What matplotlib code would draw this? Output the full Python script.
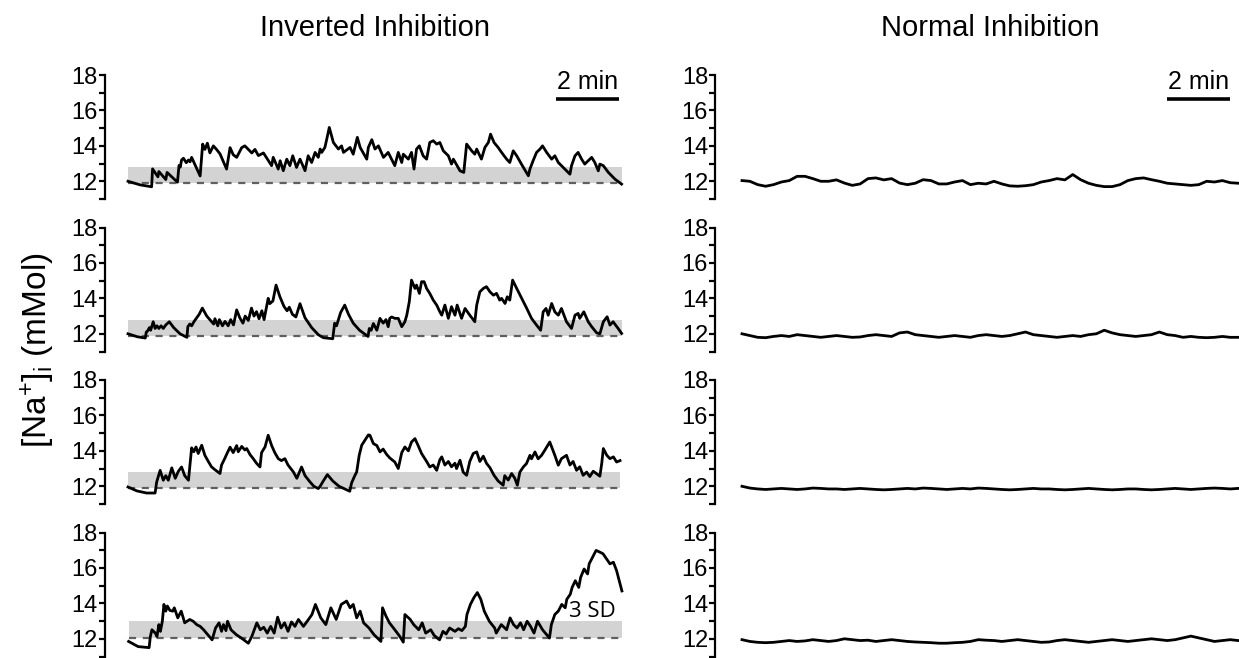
import numpy as np
import matplotlib
matplotlib.use('Agg')
import matplotlib.pyplot as plt

plt.rcParams['font.family'] = ['Liberation Sans', 'DejaVu Sans']
plt.rcParams['mathtext.fontset'] = 'custom'
plt.rcParams['mathtext.rm'] = 'Liberation Sans'
plt.rcParams['mathtext.it'] = 'Liberation Sans:italic'

# --- data: (time in min, [Na+]i in mM) ---
inv1 = np.array([
    (0.0, 12.0), (0.38, 11.8), (0.75, 11.69), (0.78, 12.7), (0.95, 12.25), (0.98, 12.55), (1.2, 12.1),
    (1.24, 12.5), (1.57, 11.95), (1.62, 12.9), (1.66, 12.8), (1.7, 13.2), (1.76, 13.3), (1.85, 13.05),
    (1.92, 13.2), (1.97, 13.1), (2.02, 13.35), (2.29, 12.3), (2.37, 14.1), (2.44, 13.8), (2.52, 14.15),
    (2.6, 13.6), (2.71, 14.0), (2.81, 13.8), (2.92, 13.55), (3.13, 12.69), (3.24, 13.9), (3.34, 13.5),
    (3.45, 13.35), (3.61, 13.9), (3.71, 14.0), (3.82, 13.8), (3.93, 13.6), (4.03, 13.8), (4.14, 13.45),
    (4.3, 13.6), (4.46, 13.15), (4.56, 12.88), (4.61, 13.35), (4.77, 12.69), (4.83, 13.16), (4.93, 12.6),
    (5.04, 13.25), (5.14, 12.88), (5.23, 13.44), (5.35, 12.78), (5.46, 13.25), (5.62, 12.6), (5.72, 13.44),
    (5.83, 13.06), (5.94, 13.63), (6.04, 13.35), (6.1, 13.82), (6.15, 13.63), (6.25, 13.91), (6.31, 14.38),
    (6.39, 15.04), (6.52, 14.19), (6.68, 13.82), (6.78, 14.0), (6.84, 13.63), (7.05, 13.91), (7.15, 13.53),
    (7.28, 14.48), (7.37, 13.91), (7.58, 13.25), (7.63, 13.91), (7.74, 14.35), (7.84, 13.82), (7.95, 14.0),
    (8.11, 13.35), (8.26, 13.63), (8.47, 12.88), (8.58, 13.63), (8.69, 13.06), (8.74, 13.53), (8.9, 13.25),
    (9.0, 13.63), (9.08, 12.69), (9.16, 13.82), (9.25, 14.0), (9.37, 13.44), (9.48, 13.25), (9.58, 14.19),
    (9.69, 14.29), (9.8, 14.1), (9.9, 14.19), (10.01, 13.72), (10.17, 13.44), (10.27, 12.97), (10.33, 13.25),
    (10.54, 12.59), (10.66, 12.5), (10.75, 14.1), (10.91, 13.72), (11.01, 13.53), (11.07, 13.82),
    (11.22, 13.25), (11.33, 13.91), (11.44, 14.19), (11.51, 14.66), (11.62, 14.19), (11.75, 13.91),
    (11.86, 13.63), (12.02, 13.25), (12.12, 13.06), (12.23, 13.72), (12.34, 13.44), (12.49, 12.97),
    (12.71, 12.31), (12.76, 12.69), (12.86, 13.16), (12.97, 13.63), (13.08, 13.82), (13.16, 14.0),
    (13.29, 13.63), (13.45, 13.25), (13.55, 13.44), (13.66, 13.06), (13.76, 12.88), (13.87, 12.69),
    (14.03, 12.4), (14.08, 12.88), (14.19, 13.44), (14.29, 13.63), (14.4, 13.25), (14.5, 12.97),
    (14.61, 13.16), (14.72, 13.35), (14.82, 13.06), (14.93, 12.59), (14.98, 12.97), (15.09, 12.88),
    (15.25, 12.5), (15.46, 12.12), (15.67, 11.84)])

inv2 = np.array([
    (0.0, 12.0), (0.3, 11.83), (0.55, 11.76), (0.58, 12.1), (0.62, 12.15), (0.68, 12.35), (0.72, 12.2),
    (0.8, 12.68), (0.86, 12.3), (0.92, 12.45), (0.98, 12.3), (1.05, 12.45), (1.12, 12.3), (1.2, 12.5),
    (1.31, 12.68), (1.45, 12.35), (1.65, 12.0), (1.87, 11.8), (1.9, 12.4), (1.96, 12.55), (2.02, 12.45),
    (2.1, 12.7), (2.18, 12.9), (2.26, 13.1), (2.36, 13.45), (2.5, 13.0), (2.62, 12.75), (2.72, 12.55),
    (2.76, 12.85), (2.85, 12.45), (2.9, 12.8), (3.0, 12.45), (3.08, 12.7), (3.18, 12.45), (3.26, 12.8),
    (3.35, 12.5), (3.45, 13.35), (3.55, 12.9), (3.65, 12.6), (3.72, 13.0), (3.82, 12.75), (3.92, 13.45),
    (4.0, 13.0), (4.08, 13.25), (4.16, 12.85), (4.25, 13.3), (4.32, 12.8), (4.45, 14.0), (4.5, 13.7),
    (4.6, 13.85), (4.7, 14.75), (4.82, 14.1), (4.95, 13.55), (5.05, 13.3), (5.12, 13.5), (5.22, 13.1),
    (5.33, 12.95), (5.46, 13.7), (5.62, 12.9), (5.83, 12.35), (6.04, 11.95), (6.2, 11.78), (6.5, 11.72),
    (6.56, 12.6), (6.62, 12.45), (6.68, 12.8), (6.75, 13.2), (6.88, 13.62), (7.0, 13.1), (7.15, 12.6),
    (7.35, 12.2), (7.62, 11.85), (7.66, 12.3), (7.72, 12.2), (7.79, 12.58), (7.9, 12.2), (8.0, 12.87),
    (8.1, 12.6), (8.19, 12.8), (8.26, 12.4), (8.31, 12.87), (8.37, 12.95), (8.47, 12.87), (8.58, 12.87),
    (8.69, 12.4), (8.79, 12.68), (8.85, 13.05), (8.93, 13.81), (9.0, 15.03), (9.11, 14.56), (9.16, 14.75),
    (9.25, 14.28), (9.32, 14.94), (9.4, 14.94), (9.48, 14.56), (9.58, 14.28), (9.69, 13.9), (9.8, 13.62),
    (9.9, 13.24), (9.96, 13.05), (10.06, 13.62), (10.17, 12.87), (10.27, 13.53), (10.38, 13.05),
    (10.45, 13.62), (10.59, 12.87), (10.7, 13.43), (10.85, 13.05), (11.01, 12.68), (11.07, 13.62),
    (11.17, 14.37), (11.28, 14.56), (11.38, 14.66), (11.49, 14.37), (11.6, 14.18), (11.7, 14.28),
    (11.8, 13.9), (11.86, 14.0), (11.97, 13.71), (12.04, 14.09), (12.12, 13.9), (12.21, 15.03),
    (12.34, 14.56), (12.5, 14.0), (12.66, 13.43), (12.81, 12.87), (12.97, 12.49), (13.1, 12.2),
    (13.18, 13.24), (13.27, 13.43), (13.34, 13.05), (13.45, 13.71), (13.55, 13.24), (13.66, 13.05),
    (13.76, 13.43), (13.92, 12.68), (14.08, 12.3), (14.19, 13.05), (14.29, 13.15), (14.34, 12.87),
    (14.47, 13.24), (14.61, 12.68), (14.72, 12.4), (14.88, 12.05), (14.98, 12.0), (15.09, 12.68),
    (15.21, 12.96), (15.3, 12.49), (15.4, 12.68), (15.56, 12.3), (15.67, 12.02)])

inv3 = np.array([
    (0.0, 11.96), (0.28, 11.74), (0.59, 11.62), (0.86, 11.62), (0.91, 12.24), (1.02, 12.9), (1.12, 12.34),
    (1.2, 12.6), (1.28, 12.34), (1.39, 13.04), (1.5, 12.45), (1.6, 12.85), (1.7, 13.09), (1.8, 12.6),
    (1.92, 12.34), (2.02, 14.17), (2.09, 13.95), (2.16, 14.22), (2.23, 13.85), (2.34, 14.32), (2.44, 13.75),
    (2.55, 13.4), (2.65, 13.1), (2.75, 12.95), (2.92, 12.72), (2.97, 13.2), (3.08, 13.6), (3.13, 13.8),
    (3.24, 14.21), (3.34, 13.9), (3.45, 14.3), (3.5, 13.95), (3.61, 14.25), (3.71, 14.05), (3.77, 14.13),
    (3.87, 13.8), (3.98, 13.55), (4.08, 13.3), (4.19, 13.09), (4.24, 13.9), (4.35, 14.22), (4.45, 14.88),
    (4.56, 14.3), (4.66, 13.9), (4.77, 13.56), (4.87, 13.45), (4.98, 13.56), (5.08, 13.2), (5.25, 12.81),
    (5.36, 12.45), (5.51, 13.09), (5.62, 12.6), (5.78, 12.24), (5.9, 12.0), (6.04, 11.87), (6.1, 12.0),
    (6.2, 12.3), (6.33, 12.66), (6.5, 12.3), (6.7, 12.0), (7.04, 11.72), (7.1, 12.2), (7.2, 12.6),
    (7.26, 12.81), (7.34, 13.75), (7.42, 14.32), (7.52, 14.6), (7.63, 14.9), (7.68, 14.88), (7.79, 14.41),
    (7.9, 14.3), (8.0, 13.94), (8.1, 14.1), (8.21, 13.8), (8.31, 13.6), (8.47, 13.37), (8.58, 13.0),
    (8.69, 13.9), (8.79, 14.22), (8.9, 14.0), (9.0, 14.5), (9.11, 14.69), (9.21, 14.3), (9.32, 13.85),
    (9.48, 13.4), (9.58, 13.09), (9.69, 13.2), (9.8, 12.9), (9.9, 13.5), (9.96, 13.66), (10.06, 13.2),
    (10.17, 13.4), (10.27, 13.1), (10.38, 13.3), (10.43, 13.0), (10.54, 13.47), (10.64, 12.8),
    (10.75, 12.62), (10.85, 13.4), (10.96, 13.85), (11.07, 13.94), (11.17, 13.4), (11.28, 13.7),
    (11.38, 13.3), (11.49, 13.05), (11.62, 12.62), (11.75, 12.3), (11.91, 12.06), (11.96, 12.6),
    (12.07, 12.35), (12.18, 12.72), (12.28, 12.45), (12.36, 12.06), (12.44, 12.8), (12.55, 13.09),
    (12.65, 13.28), (12.76, 13.75), (12.81, 13.55), (12.92, 13.94), (13.02, 13.55), (13.13, 13.75),
    (13.23, 14.03), (13.39, 14.5), (13.55, 13.75), (13.66, 13.19), (13.76, 13.56), (13.92, 13.75),
    (14.03, 13.2), (14.13, 13.4), (14.24, 12.9), (14.34, 13.1), (14.45, 12.62), (14.56, 12.8),
    (14.66, 12.55), (14.77, 12.85), (14.98, 12.57), (15.04, 13.3), (15.09, 14.13), (15.2, 13.75),
    (15.3, 13.56), (15.41, 13.66), (15.51, 13.37), (15.62, 13.45)])

inv4 = np.array([
    (0.02, 11.85), (0.32, 11.56), (0.67, 11.5), (0.71, 12.13), (0.76, 12.51), (0.87, 12.32), (0.92, 12.13),
    (0.98, 12.8), (1.03, 12.42), (1.09, 12.99), (1.14, 13.94), (1.2, 13.56), (1.25, 13.85), (1.33, 13.6),
    (1.42, 13.56), (1.47, 13.75), (1.58, 13.18), (1.69, 13.56), (1.8, 12.9), (1.96, 13.09), (2.07, 12.99),
    (2.18, 12.8), (2.29, 12.7), (2.4, 12.51), (2.67, 11.94), (2.78, 12.61), (2.89, 12.9), (2.97, 12.42),
    (3.03, 12.8), (3.11, 12.46), (3.16, 12.99), (3.27, 12.51), (3.44, 12.23), (3.6, 12.04), (3.82, 11.75),
    (3.93, 12.13), (4.09, 12.9), (4.2, 12.51), (4.31, 12.65), (4.42, 12.32), (4.53, 12.7), (4.64, 12.32),
    (4.75, 13.22), (4.86, 12.61), (4.97, 12.9), (5.08, 12.42), (5.19, 12.95), (5.3, 12.7), (5.41, 13.09),
    (5.57, 12.7), (5.73, 13.09), (5.84, 13.37), (5.95, 13.94), (6.12, 13.18), (6.28, 12.8), (6.44, 13.75),
    (6.61, 13.09), (6.77, 13.94), (6.94, 14.13), (7.05, 13.75), (7.15, 13.94), (7.26, 13.18), (7.37, 13.56),
    (7.48, 12.9), (7.65, 12.61), (7.81, 12.23), (8.03, 11.85), (8.08, 13.75), (8.19, 13.28), (8.3, 12.9),
    (8.47, 12.51), (8.63, 12.13), (8.74, 11.81), (8.79, 13.37), (8.96, 13.09), (9.07, 12.8), (9.23, 12.51),
    (9.34, 12.9), (9.45, 12.32), (9.61, 12.51), (9.72, 12.19), (9.89, 11.94), (10.0, 12.42), (10.1, 12.27),
    (10.21, 12.61), (10.38, 12.42), (10.49, 12.57), (10.6, 12.46), (10.71, 12.7), (10.76, 13.37),
    (10.87, 13.94), (10.98, 14.32), (11.09, 14.61), (11.2, 14.23), (11.31, 13.56), (11.47, 12.99),
    (11.64, 12.61), (11.69, 12.32), (11.85, 12.8), (12.02, 12.51), (12.13, 13.18), (12.24, 12.8),
    (12.35, 12.61), (12.46, 12.9), (12.56, 12.51), (12.67, 12.99), (12.78, 12.7), (12.89, 12.32),
    (13.0, 12.99), (13.16, 12.51), (13.38, 12.04), (13.44, 12.8), (13.55, 13.37), (13.66, 13.56),
    (13.77, 13.94), (13.88, 13.75), (13.93, 14.23), (14.04, 14.51), (14.1, 14.9), (14.2, 15.28),
    (14.31, 14.9), (14.37, 15.47), (14.48, 15.94), (14.59, 15.66), (14.64, 16.23), (14.75, 16.61),
    (14.86, 16.99), (14.97, 16.9), (15.08, 16.8), (15.19, 16.51), (15.3, 16.23), (15.41, 16.32),
    (15.51, 15.85), (15.68, 14.7)])

# normal inhibition traces, sampled every 0.25 min
norm_t = np.arange(64) * 0.25
norm1 = [12.04, 12.0, 11.81, 11.72, 11.81, 11.96, 12.04, 12.28, 12.28, 12.15, 12.0, 12.0, 12.08, 11.9,
         11.77, 11.85, 12.15, 12.19, 12.08, 12.15, 11.9, 11.81, 11.89, 12.09, 12.04, 11.85, 11.85, 11.96,
         12.04, 11.81, 11.89, 11.85, 12.0, 11.85, 11.74, 11.72, 11.75, 11.81, 11.96, 12.04, 12.15, 12.08,
         12.38, 12.09, 11.89, 11.77, 11.7, 11.7, 11.81, 12.04, 12.15, 12.19, 12.09, 12.0, 11.89, 11.85,
         11.81, 11.77, 11.81, 12.0, 11.96, 12.04, 11.92, 11.89]
norm2 = [12.0, 11.9, 11.8, 11.78, 11.85, 11.9, 11.85, 11.95, 11.9, 11.85, 11.8, 11.85, 11.9, 11.85,
         11.8, 11.82, 11.9, 11.95, 11.9, 11.85, 12.05, 12.1, 11.95, 11.9, 11.85, 11.8, 11.85, 11.9,
         11.85, 11.8, 11.9, 11.95, 11.9, 11.85, 11.9, 12.0, 12.1, 11.95, 11.9, 11.85, 11.8, 11.85, 11.9,
         11.85, 11.95, 12.0, 12.2, 12.05, 11.95, 11.9, 11.85, 11.9, 11.95, 12.1, 11.95, 11.9, 11.8,
         11.85, 11.8, 11.78, 11.8, 11.85, 11.8, 11.8]
norm3 = [12.0, 11.9, 11.85, 11.82, 11.85, 11.88, 11.85, 11.82, 11.85, 11.9, 11.88, 11.85, 11.85, 11.82,
         11.85, 11.88, 11.85, 11.82, 11.8, 11.82, 11.85, 11.88, 11.85, 11.9, 11.88, 11.85, 11.82, 11.85,
         11.88, 11.85, 11.9, 11.88, 11.85, 11.82, 11.8, 11.82, 11.85, 11.88, 11.85, 11.85, 11.82, 11.8,
         11.82, 11.85, 11.88, 11.85, 11.82, 11.8, 11.82, 11.85, 11.85, 11.82, 11.8, 11.82, 11.85, 11.88,
         11.85, 11.82, 11.85, 11.88, 11.9, 11.88, 11.85, 11.88]
norm4 = [11.95, 11.85, 11.8, 11.78, 11.8, 11.85, 11.9, 11.85, 11.88, 11.95, 11.9, 11.85, 11.9, 12.0,
         11.95, 11.9, 11.92, 11.85, 11.9, 11.95, 11.9, 11.85, 11.82, 11.8, 11.78, 11.75, 11.75, 11.78,
         11.8, 11.85, 11.95, 11.92, 11.9, 11.85, 11.9, 11.95, 11.9, 11.85, 11.8, 11.82, 11.9, 11.95, 11.9,
         11.85, 11.8, 11.85, 11.9, 11.95, 11.9, 11.85, 11.9, 11.95, 12.0, 11.95, 11.9, 11.95, 12.05,
         12.15, 12.05, 11.95, 11.85, 11.9, 11.95, 11.9]

baseline = [11.9, 11.85, 11.9, 12.05]   # dashed line
upper_3sd = [12.82, 12.78, 12.78, 13.0]  # top of grey band
titles = ['Inverted Inhibition', 'Normal Inhibition']

inverted = [inv1, inv2, inv3, inv4]
normal = [norm1, norm2, norm3, norm4]

# --- layout (pixels) ---
W, H = 1239, 658
fig = plt.figure(figsize=(W / 100, H / 100), dpi=100)
PX = 31.5                                   # px per minute
cols = [(104.5, 626, 128), (715, 1239, 742)]  # spine x, right edge, trace start
top0, step, hgt = 75, 152.5, 124

for r in range(4):
    for c in range(2):
        x0, x1, ts = cols[c]
        top = top0 + r * step
        ax = fig.add_axes([x0 / W, 1 - (top + hgt) / H, (x1 - x0) / W, hgt / H])
        ax.set_xlim(-(ts - x0) / PX, (x1 - ts) / PX)
        ax.set_ylim(11, 18)
        for s in ['top', 'right', 'bottom']:
            ax.spines[s].set_visible(False)
        ax.spines['left'].set_linewidth(1.6)
        ax.set_xticks([])
        ax.set_yticks([12, 14, 16, 18])
        ax.set_yticks([11, 13, 15, 17], minor=True)
        ax.tick_params(axis='y', which='both', direction='out', length=4, width=1.6,
                       labelsize=17, pad=1)
        ax.patch.set_alpha(0)

        if c == 0:
            d = inverted[r]
            t, v = d[:, 0], d[:, 1]
            ax.fill_between([t[0], t[-1]], baseline[r], upper_3sd[r], color='#d3d3d3', lw=0, zorder=1)
            ax.plot([t[0], t[-1]], [baseline[r]] * 2, color='#5f5f5f', lw=1.6,
                    ls=(0, (3.2, 3.0)), zorder=2)
        else:
            t, v = norm_t, normal[r]
        ax.plot(t, v, color='black', lw=2.0, zorder=3)

        if r == 0:
            x_bar = 13.6 if c == 0 else 13.5
            ax.plot([x_bar, x_bar + 2], [16.65, 16.65], color='black', lw=2.6, solid_capstyle='butt')
            ax.text(x_bar + 1, 17.2, '2 min', ha='center', va='baseline', fontsize=18)
        if r == 3 and c == 0:
            ax.text(15.47, 13.55, '3 SD', ha='right', va='center', fontsize=16,
                    family=['Open Sans', 'DejaVu Sans'])

fig.text(375 / W, 1 - 28 / H, titles[0], ha='center', va='center', fontsize=21)
fig.text(990 / W, 1 - 28 / H, titles[1], ha='center', va='center', fontsize=21)
fig.text(38 / W, 1 - 350 / H, r'[Na$^{+}$]$_{\mathrm{i}}$ (mMol)', rotation=90,
         ha='center', va='center', fontsize=24)

fig.savefig('out.png', dpi=100)
